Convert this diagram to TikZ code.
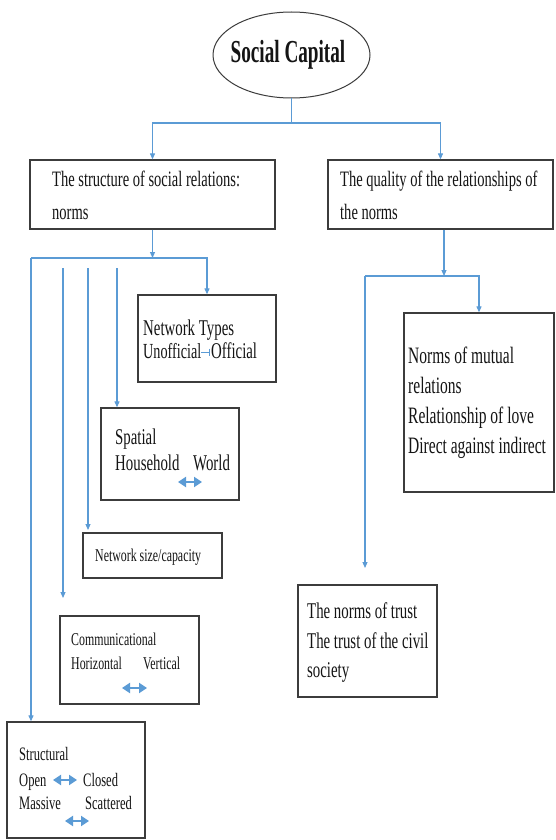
\documentclass[tikz,border=0pt]{standalone}
\usepackage{fontspec}
\setmainfont[FakeStretch=0.66]{Liberation Serif}
\newfontfamily\titlefont[FakeStretch=0.6]{Liberation Serif}
\usetikzlibrary{arrows.meta,shapes.geometric}
\definecolor{linkblue}{RGB}{91,155,213}
\definecolor{edgegray}{RGB}{60,60,60}
\definecolor{ink}{RGB}{20,20,20}

\begin{document}
\begin{tikzpicture}[x=1pt,y=-1pt,
  box/.style={draw=edgegray,line width=1.3pt,rectangle,inner sep=0pt},
  conn/.style={draw=linkblue,line width=1.1pt},
  tip/.style={conn,-{Triangle[length=6pt,width=5pt]}},
  pair/.style={draw=linkblue,line width=2.2pt,{Triangle[length=8pt,width=10pt]}-{Triangle[length=8pt,width=10pt]}},
  txt/.style={anchor=base west,inner sep=0pt,text=ink},
  head/.style={txt,font=\fontsize{22}{26}\selectfont},
  body/.style={txt,font=\fontsize{22.5}{26}\selectfont},
  small/.style={txt,font=\fontsize{18}{21}\selectfont}
]
\fill[white] (0,0) rectangle (556,840);
\useasboundingbox (0,0) rectangle (556,840);

% root
\node[draw=edgegray,line width=1pt,ellipse,minimum width=157pt,minimum height=86pt,inner sep=0pt] (E) at (291.5,55) {};
\node[inner sep=0pt,text=ink,font=\titlefont\bfseries\fontsize{32}{36}\selectfont] (Et) at (288,55) {Social Capital};

% first level
\node[box,minimum width=245pt,minimum height=69pt] (L) at (152.5,194.5) {};
\node[box,minimum width=225pt,minimum height=69pt] (R) at (440.5,194.5) {};
\node[head] (L1) at (52,186) {The structure of social relations:};
\node[head] (L2) at (52,219) {norms};
\node[head] (R1) at (340,186) {The quality of the relationships of};
\node[head] (R2) at (340,219) {the norms};

% structure branch
\node[box,minimum width=138pt,minimum height=87pt] (NT) at (207,338.5) {};
\node[body] (NT1) at (143,335) {Network Types};
\node[body,font=\fontsize{21.5}{25}\selectfont] (NT2) at (143,358) {Unofficial};
\node[body] (NT3) at (211,358) {Official};
\draw[draw=linkblue,line width=0.9pt,-{Bar[width=7pt]}] ([yshift=6pt]NT2.base east) -- ([yshift=6pt,xshift=-1pt]NT3.base west);

\node[box,minimum width=138pt,minimum height=92pt] (SP) at (170,454) {};
\node[body] (SP1) at (115,444) {Spatial};
\node[body] (SP2) at (115,470) {Household};
\node[body] (SP3) at (193,470) {World};
\draw[pair] (178,482) -- (202,482);

\node[box,minimum width=139pt,minimum height=45pt] (NS) at (152.5,555.5) {};
\node[small] (NS1) at (95,561) {Network size/capacity};

\node[box,minimum width=139pt,minimum height=88pt] (CM) at (129.5,660) {};
\node[small] (CM1) at (71,645) {Communicational};
\node[small] (CM2) at (71,669) {Horizontal};
\node[small] (CM3) at (143,669) {Vertical};
\draw[pair] (122,688) -- (147,688);

\node[box,minimum width=138pt,minimum height=116pt] (ST) at (76,780) {};
\node[small,font=\fontsize{19}{22}\selectfont] (ST1) at (19,760) {Structural};
\node[small,font=\fontsize{19}{22}\selectfont] (ST2) at (19,786) {Open};
\node[small,font=\fontsize{19}{22}\selectfont] (ST3) at (83,786) {Closed};
\node[small,font=\fontsize{19}{22}\selectfont] (ST4) at (19,809) {Massive};
\node[small,font=\fontsize{19}{22}\selectfont] (ST5) at (85,809) {Scattered};
\draw[pair] (53,780) -- (77,780);
\draw[pair] (65,821) -- (89,821);

% quality branch
\node[box,minimum width=150pt,minimum height=179pt] (NM) at (479,402.5) {};
\node[body,font=\fontsize{23.5}{27}\selectfont] (NM1) at (408,363) {Norms of mutual};
\node[body,font=\fontsize{23.5}{27}\selectfont] (NM2) at (408,393) {relations};
\node[body,font=\fontsize{23.5}{27}\selectfont] (NM3) at (408,423) {Relationship of love};
\node[body,font=\fontsize{23.5}{27}\selectfont] (NM4) at (408,453) {Direct against indirect};

\node[box,minimum width=139pt,minimum height=112pt] (TR) at (367.5,641) {};
\node[body] (TR1) at (307,618) {The norms of trust};
\node[body] (TR2) at (307,648) {The trust of the civil};
\node[body] (TR3) at (307,677) {society};

% connectors
\coordinate (j0) at (291.5,123);
\draw[conn] (E) -- (j0);
\draw[tip] (j0) -| (L);
\draw[tip] (j0) -| (R);

\coordinate (jL) at (152.5,258);
\coordinate (bL) at (31,258);
\draw[tip] (L) -- (jL);
\draw[conn] (bL) -- (jL);
\draw[tip] (jL) -| (NT);
\draw[tip] (bL) -- (bL |- ST.north);
\coordinate (s1) at (63,268);
\coordinate (s2) at (88,268);
\coordinate (s3) at (117,268);
\draw[tip] (s3) -- (s3 |- SP.north);
\draw[tip] (s2) -- (88,530);
\draw[tip] (s1) -- (63,598);

\coordinate (jR) at (444,276);
\coordinate (bR) at (365,276);
\draw[tip] (R.south -| jR) -- (jR);
\draw[conn] (bR) -- (jR);
\draw[tip] (jR) -| (NM);
\draw[tip] (bR) -- (365,568);
\end{tikzpicture}
\end{document}
